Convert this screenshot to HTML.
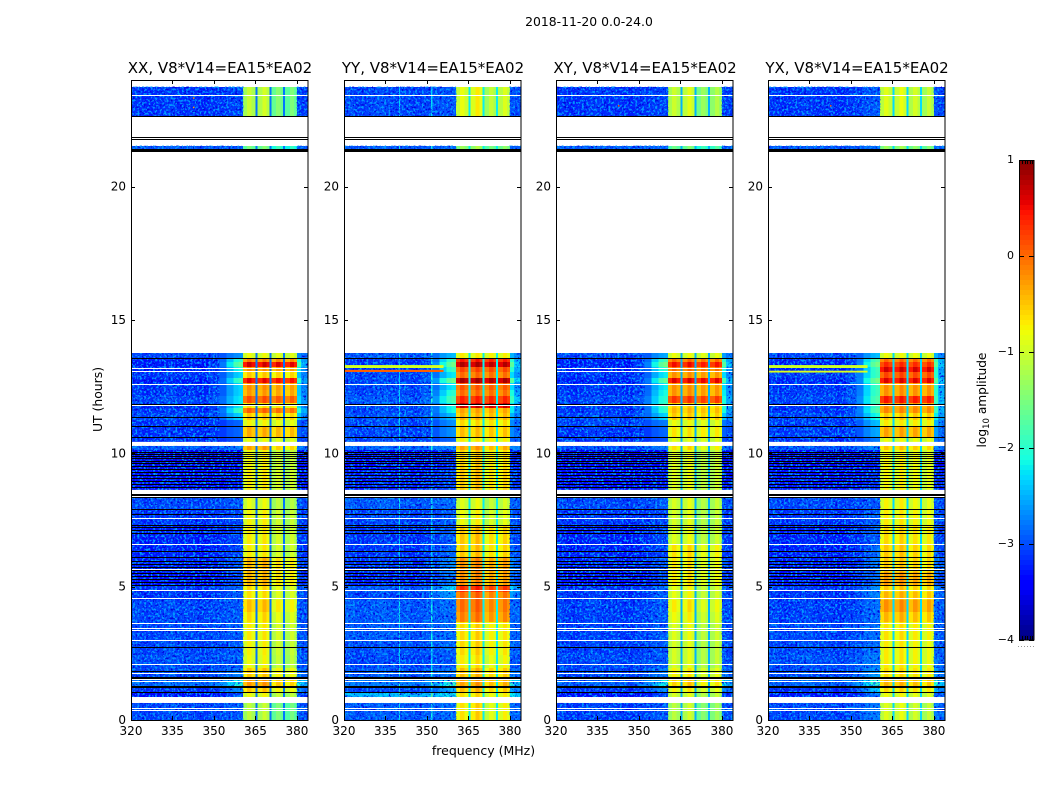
<!DOCTYPE html>
<html lang="en">
<head>
<meta charset="utf-8">
<title>2018-11-20 amplitude waterfall</title>
<style>
html,body{margin:0;padding:0;background:#fff;}
svg{display:block;}
text{font-family:"DejaVu Sans","Liberation Sans",sans-serif;fill:#000;}
</style>
</head>
<body>
<svg id="figure" xmlns="http://www.w3.org/2000/svg" width="1050" height="800" viewBox="0 0 1050 800">
  <defs>
    <filter id="speckle-light" x="0" y="0" width="100%" height="100%" color-interpolation-filters="sRGB">
      <feTurbulence type="fractalNoise" baseFrequency="0.45" numOctaves="2" seed="4"/>
      <feColorMatrix values="0 0 0 0 0  0 0 0 0 0.6  0 0 0 0 1  6 0 0 0 -3.0"/>
    </filter>
    <filter id="speckle-dark" x="0" y="0" width="100%" height="100%" color-interpolation-filters="sRGB">
      <feTurbulence type="fractalNoise" baseFrequency="0.45" numOctaves="2" seed="11"/>
      <feColorMatrix values="0 0 0 0 0  0 0 0 0 0  0 0 0 0 0.85  5 0 0 0 -2.7"/>
    </filter>
  </defs>
  <rect x="0" y="0" width="1050" height="800" fill="#fff"/>
  <text x="589" y="26" font-size="12.4" text-anchor="middle">2018-11-20 0.0-24.0</text>
  <text x="483.5" y="755" font-size="12.5" text-anchor="middle">frequency (MHz)</text>
  <text x="102" y="399.5" font-size="12.4" text-anchor="middle" transform="rotate(-90 102 399.5)">UT (hours)</text>
  <text x="986" y="400" font-size="12.2" text-anchor="middle" transform="rotate(-90 986 400)">log<tspan font-size="8.5" dy="3">10</tspan><tspan dy="-3"> amplitude</tspan></text>
  <g id="panels"></g>
  <g id="colorbar"></g>
</svg>
<script>
// ---- axis ticks ----
const freqTicks = [320, 335, 350, 365, 380];
const hourTicks = [0, 5, 10, 15, 20];
const cbarTicks = [1, 0, -1, -2, -3, -4];

// ---- panels ----
const panelNames = ['XX', 'YY', 'XY', 'YX'];
const panelSuffix = ', V8*V14=EA15*EA02';

// ---- frequency channels (MHz edges) and what each column holds ----
const freqEdges = [320,324,328,332,336,339.8,340.3,344,348,351.5,352,354.5,357,358.8,360.5,362,363.5,365,365.7,367.5,369,370,370.8,372.5,374,375,375.7,377.5,379,380,381.5,384];
const columnKinds = ['bg','bg','bg','bg','bg','spike','bg','bg','bg','spike','bg','bg','bg','bg','s0','s0','s0','gap','s1','s1','s1','gap','s2','s2','s2','gap','s3','s3','s3','bg','bg'];
const rollWeights = [0,0,0,0,0,0,0,0,0.1,0.15,0.35,0.7,1,1.1,0,0,0,0,0,0,0,0,0,0,0,0,0,0,0,1,0.6];
const channelOffsets = [0.05,-0.03,0.02,0.08,0,0,0.03,-0.04,0.02,0.03,0,0.03,0,0,-0.12,0.12,-0.06,0,-0.12,0.12,-0.06,0,-0.12,0.12,-0.06,0,-0.12,0.12,-0.06,0,0];

// ---- time blocks (UT hours) ----
const rowTops = [23.74,21.53,13.76,13.58,13.43,13.24,13.05,12.83,12.64,12.38,12.15,11.89,11.70,11.51,11.25,10.99,10.61,10.28,10.13,9.38,8.36,7.88,7.31,6.56,6.08,5.55,5.06,4.80,4.50,4.05,3.68,3.00,2.44,1.95,1.61,1.28,1.05,0.64];
const rowBottoms = [22.65,21.41,13.58,13.43,13.24,13.05,12.83,12.64,12.38,12.15,11.89,11.70,11.51,11.25,10.99,10.61,10.43,10.13,9.38,8.63,7.88,7.31,6.56,6.08,5.55,5.06,4.80,4.50,4.05,3.68,3.00,2.44,1.95,1.61,1.28,1.05,0.86,0];
const segmentWeights = [1.5,1.5,0.3,0.3,0.3,0.3,0.3,0.3,0.3,0.3,0.3,0.3,0.3,0.3,0.3,0.3,0.3,1,1,1,1,1,1,1,1,1,1,1,1,1,1,1,1,1,1,1,1,1.5];

// ---- log10 amplitude per time block: band centre ----
const xxBand = [-1.15,-1.6,-0.9,-0.2,0.55,-0.3,-0.6,0.45,-0.3,-0.35,0.05,-0.7,-0.05,-0.6,-0.85,-0.45,-0.9,-0.4,-0.85,-0.8,-0.95,-0.85,-0.8,-0.8,-0.5,-0.5,-0.7,-0.75,-0.55,-0.7,-0.8,-0.85,-0.9,-0.6,-0.35,-0.6,-0.9,-1.2];
const yyBand = [-0.95,-1.4,-0.8,0.35,0.7,0.1,-0.1,0.75,0.0,-0.1,0.3,0.6,-0.4,-0.5,-0.7,-0.55,-0.8,-0.4,-0.65,-0.6,-1.0,-0.9,-0.6,-0.6,-0.3,-0.3,0.25,-0.1,-0.1,-0.2,-0.7,-0.7,-0.8,-0.55,-0.4,-0.55,-0.75,-0.75];
const xyBand = [-1.05,-1.6,-0.9,-0.1,0.4,-0.1,-0.3,0.5,-0.3,-0.3,0.2,-0.6,-0.5,-0.6,-0.9,-0.75,-0.95,-0.7,-0.95,-0.95,-1.0,-1.0,-0.95,-0.7,-0.75,-0.75,-0.9,-0.9,-0.75,-0.85,-0.95,-1.0,-1.0,-0.8,-0.6,-0.8,-1.0,-1.15];
const yxBand = [-1.0,-1.4,-0.9,-0.1,0.25,0.55,0.1,0.5,-0.3,-0.3,0.35,-0.3,-0.25,-0.6,-0.8,-0.4,-0.9,-0.6,-0.85,-0.85,-0.85,-0.8,-0.7,-0.6,-0.6,-0.35,-0.6,-0.5,-0.3,-0.5,-0.75,-0.8,-0.8,-0.7,-0.5,-0.7,-0.9,-1.0];

// ---- log10 amplitude per time block: off-band background ----
const xxBg = [-3.2,-3.0,-3.1,-3.3,-3.3,-3.3,-3.2,-3.3,-3.2,-3.2,-3.1,-3.2,-3.2,-3.1,-3.2,-3.2,-3.2,-3.0,-3.55,-3.4,-3.1,-3.2,-3.3,-3.3,-3.3,-3.4,-3.2,-3.2,-3.1,-3.1,-3.1,-3.1,-3.05,-3.1,-2.9,-3.2,-3.4,-3.1];
const yyBg = [-3.1,-3.0,-3.0,-3.2,-3.2,-3.2,-3.1,-3.1,-3.1,-3.1,-3.0,-3.1,-3.1,-3.05,-3.1,-3.1,-3.1,-2.9,-3.4,-3.3,-3.0,-3.1,-3.2,-3.2,-3.2,-3.3,-3.0,-3.1,-3.0,-3.0,-3.0,-3.05,-3.1,-3.0,-2.8,-3.1,-2.4,-3.0];
const xyBg = [-3.2,-3.0,-3.1,-3.3,-3.3,-3.3,-3.2,-3.3,-3.2,-3.2,-3.1,-3.2,-3.2,-3.1,-3.1,-3.2,-3.2,-3.05,-3.5,-3.4,-3.1,-3.2,-3.3,-3.3,-3.3,-3.4,-3.2,-3.2,-3.15,-3.15,-3.15,-3.15,-3.1,-3.1,-3.0,-3.2,-3.4,-3.15];
const yxBg = [-3.2,-3.0,-3.1,-3.25,-3.3,-3.3,-3.15,-3.25,-3.2,-3.15,-3.1,-3.2,-3.2,-3.1,-3.15,-3.15,-3.2,-3.0,-3.5,-3.35,-3.1,-3.2,-3.3,-3.3,-3.3,-3.35,-3.2,-3.2,-3.15,-3.15,-3.1,-3.1,-3.05,-3.1,-2.95,-3.2,-3.35,-3.1];

// ---- log10 amplitude per time block: band-edge roll-off ----
const xxRoll = [-3.1,-3.0,-2.7,-2.1,-1.8,-2.2,-2.4,-2.0,-2.4,-2.4,-2.3,-2.3,-2.0,-2.4,-2.9,-2.9,-3.0,-2.8,-3.4,-3.3,-3.0,-3.1,-3.1,-3.1,-3.0,-3.1,-2.9,-3.0,-3.0,-3.0,-3.0,-3.0,-3.0,-2.8,-2.1,-2.7,-3.1,-3.0];
const yyRoll = [-3.0,-2.9,-2.5,-2.0,-1.7,-2.0,-2.3,-1.7,-2.3,-2.1,-1.9,-2.2,-2.2,-2.5,-2.7,-2.7,-2.9,-2.7,-3.2,-3.1,-2.9,-3.0,-3.0,-2.9,-2.7,-2.8,-2.3,-2.6,-2.9,-2.9,-2.9,-2.9,-3.0,-2.8,-2.0,-2.5,-2.2,-2.9];
const xyRoll = [-3.1,-3.0,-2.6,-2.0,-1.7,-2.1,-2.3,-1.8,-2.3,-2.2,-2.1,-2.0,-2.1,-2.4,-2.8,-2.9,-3.0,-2.8,-3.4,-3.3,-3.0,-3.1,-3.1,-3.1,-3.0,-3.1,-2.9,-3.0,-3.0,-3.0,-3.0,-3.0,-3.0,-2.8,-2.2,-2.7,-3.1,-3.0];
const yxRoll = [-3.0,-2.9,-2.5,-1.9,-1.7,-2.0,-2.0,-1.7,-2.0,-2.0,-1.9,-2.0,-1.9,-2.2,-2.5,-2.6,-2.8,-2.7,-3.3,-3.2,-3.0,-3.0,-3.0,-2.9,-2.8,-2.9,-2.7,-2.8,-2.9,-2.9,-2.9,-2.9,-2.8,-2.6,-2.0,-2.4,-2.9,-2.8];

// ---- per-panel offsets for the four sub-bands, dips between them and channel spikes ----
const xxSegments = [0,0.05,-0.25,-0.3];
const yySegments = [0,0.1,-0.15,-0.05];
const xySegments = [-0.05,0.05,-0.25,-0.15];
const yxSegments = [0,0.05,-0.05,-0.1];
const gapLevels = [-2.8,-2.2,-2.5,-2.3];
const spikeBoosts = [0,0.8,0,0];

// ---- flagged data (UT hours) ----
const whiteBandTops = [10.43,8.63,0.86];
const whiteBandBottoms = [10.28,8.36,0.64];
const whiteHours = [23.43,12.6,11.81,7.59,6.6,5.66,4.87,4.57,3.65,3.45,3.39,3.0,2.1,1.76,1.52,1.46,0.45,0.36];
const xxWhite = [13.2,13.09];
const yyWhite = [];
const xyWhite = [13.2,13.09];
const yxWhite = [];
const blackHours = [22.65,21.87,21.78,21.41,21.37,21.33,13.58,11.85,11.36,11.03,10.61,10.05,9.96,9.90,9.83,9.71,9.64,9.53,9.43,9.30,9.19,9.08,8.96,8.85,8.74,8.46,8.42,8.38,7.91,7.73,7.31,7.24,7.13,7.03,6.34,6.11,5.96,5.85,5.74,5.63,5.51,5.40,5.29,5.18,5.06,2.74,1.84,1.61,1.57,1.28,1.24,1.05];

// ---- strong interference lines across the off-band channels ----
const rfiPanels = [1,1,3,3];
const rfiTops = [13.31,13.13,13.31,13.1];
const rfiBottoms = [13.2,13.05,13.2,13.03];
const rfiLevels = [-0.95,0.05,-1.0,-0.9];

// ---- isolated bright pixels ----
const spotPanels = [0,0,2,3];
const spotFreqs = [342.4,342.4,342.4,342.4];
const spotHours = [23.35,23.0,23.06,23.06];
const spotLevels = [-0.2,-0.3,0.1,0.1];

// ---- colour bar range ----
const cbarMin = -4;
const cbarMax = 1;
const cbarSteps = 96;

// ---- geometry ----
const SVGNS = 'http://www.w3.org/2000/svg';
const panelLefts = [131, 344, 556, 768];
const panelWidth = 177;
const plotTop = 80;
const plotBottom = 720;
const freqMin = 320, freqMax = 384, hourMin = 0, hourMax = 24;

const bandByPanel = [xxBand, yyBand, xyBand, yxBand];
const bgByPanel = [xxBg, yyBg, xyBg, yxBg];
const rollByPanel = [xxRoll, yyRoll, xyRoll, yxRoll];
const segmentsByPanel = [xxSegments, yySegments, xySegments, yxSegments];
const whiteByPanel = [xxWhite, yyWhite, xyWhite, yxWhite];

function xScale(p, f) { return panelLefts[p] + (f - freqMin) / (freqMax - freqMin) * panelWidth; }
function yScale(h) { return plotBottom - (h - hourMin) / (hourMax - hourMin) * (plotBottom - plotTop); }

function lerpStops(t, xs, ys) {
  if (t <= xs[0]) return ys[0];
  for (let i = 1; i < xs.length; i++) {
    if (t <= xs[i]) return ys[i - 1] + (ys[i] - ys[i - 1]) * (t - xs[i - 1]) / (xs[i] - xs[i - 1]);
  }
  return ys[ys.length - 1];
}
function jet(v) {
  const t = Math.max(0, Math.min(1, (v - cbarMin) / (cbarMax - cbarMin)));
  const r = lerpStops(t, [0, 0.35, 0.66, 0.89, 1], [0, 0, 1, 1, 0.5]);
  const g = lerpStops(t, [0, 0.125, 0.375, 0.64, 0.91, 1], [0, 0, 1, 1, 0, 0]);
  const b = lerpStops(t, [0, 0.11, 0.34, 0.65, 1], [0.5, 1, 1, 0, 0]);
  return 'rgb(' + Math.round(r * 255) + ',' + Math.round(g * 255) + ',' + Math.round(b * 255) + ')';
}

function cellValue(p, r, c) {
  const kind = columnKinds[c];
  if (kind === 'gap') return gapLevels[p];
  if (kind.charAt(0) === 's' && kind !== 'spike') {
    return bandByPanel[p][r] + segmentsByPanel[p][Number(kind.charAt(1))] * segmentWeights[r] + channelOffsets[c];
  }
  const w = rollWeights[c];
  const base = bgByPanel[p][r] * (1 - w) + rollByPanel[p][r] * w + channelOffsets[c];
  return kind === 'spike' ? base + spikeBoosts[p] : base;
}

function addRect(parent, x, y, w, h, fill) {
  const el = document.createElementNS(SVGNS, 'rect');
  el.setAttribute('x', x.toFixed(2));
  el.setAttribute('y', y.toFixed(2));
  el.setAttribute('width', w.toFixed(2));
  el.setAttribute('height', h.toFixed(2));
  el.setAttribute('fill', fill);
  parent.appendChild(el);
  return el;
}
function addLine(parent, x1, y1, x2, y2) {
  const el = document.createElementNS(SVGNS, 'line');
  el.setAttribute('x1', x1);
  el.setAttribute('y1', y1);
  el.setAttribute('x2', x2);
  el.setAttribute('y2', y2);
  el.setAttribute('stroke', '#000');
  el.setAttribute('stroke-width', '1');
  el.setAttribute('shape-rendering', 'crispEdges');
  parent.appendChild(el);
  return el;
}
function addText(parent, x, y, str, size, anchor) {
  const el = document.createElementNS(SVGNS, 'text');
  el.setAttribute('x', x);
  el.setAttribute('y', y);
  el.setAttribute('font-size', size);
  el.setAttribute('text-anchor', anchor);
  el.textContent = str;
  parent.appendChild(el);
  return el;
}

const panelsRoot = document.getElementById('panels');

panelNames.forEach(function (name, p) {
  const slug = name.toLowerCase();
  const left = panelLefts[p];
  const group = document.createElementNS(SVGNS, 'g');
  
  
  panelsRoot.appendChild(group);

  const heat = document.createElementNS(SVGNS, 'g');
  
  
  heat.setAttribute('shape-rendering', 'crispEdges');
  group.appendChild(heat);

  for (let r = 0; r < rowTops.length; r++) {
    const y0 = yScale(rowTops[r]);
    const y1 = yScale(rowBottoms[r]);
    for (let c = 0; c < columnKinds.length; c++) {
      const x0 = xScale(p, freqEdges[c]);
      const x1 = xScale(p, freqEdges[c + 1]);
      const cell = addRect(heat, x0, y0, x1 - x0, y1 - y0, jet(cellValue(p, r, c)));
      
      
    }
  }

  // receiver noise texture over the off-band channels
  const spans = [[23.74, 22.65, 360.5, 380], [21.53, 21.41, 360.5, 380], [13.76, 10.43, 352, 382], [10.43, 0, 360.5, 380]];
  spans.forEach(function (span) {
    [[320, span[2]], [span[3], 384]].forEach(function (range) {
      ['speckle-dark', 'speckle-light'].forEach(function (filterId) {
        const x0 = xScale(p, range[0]);
        const x1 = xScale(p, range[1]);
        const noise = addRect(group, x0, yScale(span[0]), x1 - x0, yScale(span[1]) - yScale(span[0]), '#000');
        noise.setAttribute('filter', 'url(#' + filterId + ')');
        
        
      });
    });
  });

  const width = panelWidth;
  for (let i = 0; i < whiteBandTops.length; i++) {
    const band = addRect(group, left, yScale(whiteBandTops[i]), width, yScale(whiteBandBottoms[i]) - yScale(whiteBandTops[i]), '#fff');
    
    
  }
  whiteHours.concat(whiteByPanel[p]).forEach(function (h) {
    const line = addRect(group, left, Math.round(yScale(h)) , width, 1, '#fff');
    
    
  });
  blackHours.forEach(function (h) {
    const line = addRect(group, left, Math.round(yScale(h)), width, 1, '#000');
    
    
  });

  for (let i = 0; i < rfiPanels.length; i++) {
    if (rfiPanels[i] !== p) continue;
    const x1 = xScale(p, 356);
    const rfi = addRect(group, left, yScale(rfiTops[i]), x1 - left, yScale(rfiBottoms[i]) - yScale(rfiTops[i]), jet(rfiLevels[i]));
    
    
  }
  for (let i = 0; i < spotPanels.length; i++) {
    if (spotPanels[i] !== p) continue;
    const spot = addRect(group, xScale(p, spotFreqs[i]), yScale(spotHours[i]), 1.5, 1.5, jet(spotLevels[i]));
    
    
  }

  // axes frame
  const frame = addRect(group, left + 0.5, plotTop + 0.5, width - 0.5, plotBottom - plotTop, 'none');
  frame.setAttribute('stroke', '#000');
  frame.setAttribute('stroke-width', '1');
  frame.setAttribute('shape-rendering', 'crispEdges');
  
  

  // x ticks
  freqTicks.forEach(function (f) {
    const x = Math.round(xScale(p, f)) + 0.5;
    const tickBottom = addLine(group, x, plotBottom, x, plotBottom - 4);
    
    
    const tickTop = addLine(group, x, plotTop, x, plotTop + 4);
    
    
    const label = addText(group, xScale(p, f), 735, String(f), 12, 'middle');
    
    
  });

  // y ticks
  hourTicks.forEach(function (h) {
    const y = Math.round(yScale(h)) + 0.5;
    const tickLeft = addLine(group, left, y, left + 4, y);
    
    
    const tickRight = addLine(group, left + width, y, left + width - 4, y);
    
    
    const label = addText(group, left - 5, yScale(h) + 4, String(h), 12, 'end');
    
    
  });

  const title = addText(group, left + width / 2 + 0.5, 73, name + panelSuffix, 15, 'middle');
  
  
});

// ---- colour bar ----
const cbarRoot = document.getElementById('colorbar');
const cbarLeft = 1019, cbarWidth = 15, cbarTop = 160, cbarBottom = 640;
function cbarY(v) { return cbarBottom - (v - cbarMin) / (cbarMax - cbarMin) * (cbarBottom - cbarTop); }

const cbarFill = document.createElementNS(SVGNS, 'g');


cbarFill.setAttribute('shape-rendering', 'crispEdges');
cbarRoot.appendChild(cbarFill);
for (let i = 0; i < cbarSteps; i++) {
  const v0 = cbarMin + (cbarMax - cbarMin) * i / cbarSteps;
  const v1 = cbarMin + (cbarMax - cbarMin) * (i + 1) / cbarSteps;
  const seg = addRect(cbarFill, cbarLeft, cbarY(v1), cbarWidth, cbarY(v0) - cbarY(v1), jet((v0 + v1) / 2));
  
  
}
const cbarFrame = addRect(cbarRoot, cbarLeft + 0.5, cbarTop + 0.5, cbarWidth - 0.5, cbarBottom - cbarTop - 0.5, 'none');
cbarFrame.setAttribute('stroke', '#000');
cbarFrame.setAttribute('stroke-width', '1');
cbarFrame.setAttribute('shape-rendering', 'crispEdges');



cbarTicks.forEach(function (v) {
  const y = Math.round(cbarY(v)) + 0.5;
  const tickA = addLine(cbarRoot, cbarLeft, y, cbarLeft + 5, y);
  
  
  const tickB = addLine(cbarRoot, cbarLeft + cbarWidth - 5, y, cbarLeft + cbarWidth, y);
  
  
  const labelText = v < 0 ? '\u2212' + Math.abs(v) : String(v);
  const label = addText(cbarRoot, 1014, cbarY(v) + 3, labelText, 11, 'end');
  
  
});
[1022, 1024.5, 1027, 1029.5, 1032].forEach(function (x) {
  const xr = Math.round(x) + 0.5;
  const topTick = addLine(cbarRoot, xr, cbarTop, xr, cbarTop + 4);
  
  
  const bottomTick = addLine(cbarRoot, xr, cbarBottom, xr, cbarBottom - 4);
  
  
});
[1018, 1021, 1024, 1027, 1030, 1033].forEach(function (x) {
  const dot = addRect(cbarRoot, x, 646, 1, 1, '#999');
  
  
});
</script>
</body>
</html>
